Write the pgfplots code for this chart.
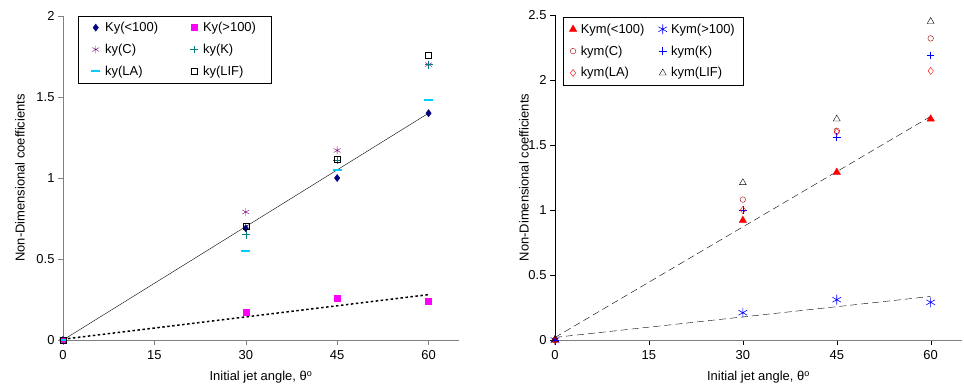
\documentclass[border=0pt]{standalone}
\usepackage{pgfplots}
\pgfplotsset{compat=1.18}
\usepackage{fontspec}
\setmainfont{Liberation Sans}
\definecolor{navyc}{RGB}{0,0,128}
\definecolor{purplec}{RGB}{128,0,128}
\definecolor{tealc}{RGB}{0,128,128}
\definecolor{cyanc}{RGB}{0,204,255}
\definecolor{darkredc}{RGB}{153,0,0}
\definecolor{axgrey}{RGB}{128,128,128}
\definecolor{magentac}{RGB}{255,0,255}
\begin{document}
\begin{tikzpicture}
\useasboundingbox (0bp,0bp) rectangle (964bp,388bp);
\pgfplotsset{
  every axis/.append style={
    scale only axis,
    font=\fontsize{13}{15}\selectfont,
    axis x line*=bottom, axis y line*=left,
    xmin=0, xmax=65,
    xtick={0,15,30,45,60},
    tick align=outside,
    major tick length=5bp,
    clip=false,
    /pgf/number format/assume math mode=true,
    xlabel={Initial jet angle, θ\textsuperscript{o}},
    ylabel={Non-Dimensional coefficients},
    xlabel style={at={(axis description cs:0.5,0)}, anchor=center, yshift=-37bp},
    legend columns=2,
    legend cell align=left,
    every axis label/.append style={font=\fontsize{13}{15}\selectfont},
    xticklabel style={yshift=-2bp},
  }
}
% Left chart
\begin{axis}[
  at={(63bp,48bp)}, anchor=south west,
  width=396bp, height=324bp,
  ymin=0, ymax=2,
  ytick={0,0.5,1,1.5,2},
  yticklabels={0,0.5,1,1.5,2},
  axis line style={axgrey},
  tick style={axgrey},
  ylabel style={at={(axis description cs:0,0.5)}, anchor=center, yshift=43bp},
  legend style={at={(0.038,1.0)}, anchor=north west,
    draw=black, fill=white, font=\fontsize{13}{15}\selectfont,
    inner xsep=13bp, inner ysep=4bp, row sep=7bp,
    /tikz/every odd column/.append style={column sep=3bp},
    /tikz/every even column/.append style={column sep=30bp}},
]
\addplot[only marks, mark=diamond*, mark size=3.6, color=navyc] coordinates {(0,0) (30,0.69) (45,1.0) (60,1.4)};
\addlegendentry{Ky(<100)}
\addplot[only marks, mark=square*, mark size=3, color=magentac] coordinates {(0,0) (30,0.17) (45,0.26) (60,0.24)};
\addlegendentry{Ky(>100)}
\addplot[only marks, mark=asterisk, mark size=4, color=purplec] coordinates {(0,0) (30,0.79) (45,1.17) (60,1.70)};
\addlegendentry{ky(C)}
\addplot[only marks, mark=+, mark size=4, color=tealc] coordinates {(0,0) (30,0.65) (45,1.11) (60,1.70)};
\addlegendentry{ky(K)}
\addplot[only marks, mark=-, mark size=4.5, line width=2.2pt, color=cyanc] coordinates {(0,0) (30,0.55) (45,1.05) (60,1.48)};
\addlegendentry{ky(LA)}
\addplot[only marks, mark=square, mark size=3, color=black] coordinates {(0,0) (30,0.705) (45,1.115) (60,1.755)};
\addlegendentry{ky(LIF)}
\addplot[black, thin, forget plot] coordinates {(0,0) (60,1.4)};
\addplot[black, line width=1.5pt, dash pattern=on 2.5bp off 2.5bp, forget plot] coordinates {(0,0.005) (60,0.28)};
\end{axis}
% Right chart
\begin{axis}[
  at={(555bp,48bp)}, anchor=south west,
  width=407bp, height=325bp,
  ymin=0, ymax=2.5,
  ytick={0,0.5,1,1.5,2,2.5},
  yticklabels={0,0.5,1,1.5,2,2.5},
  x axis line style={axgrey},
  y axis line style={black},
  tick style={black},
  ylabel style={at={(axis description cs:0,0.5)}, anchor=center, yshift=31bp},
  legend style={at={(0.02,0.995)}, anchor=north west,
    draw=black, fill=white, font=\fontsize{13}{15}\selectfont,
    inner xsep=6bp, inner ysep=5bp, row sep=7bp,
    /tikz/every odd column/.append style={column sep=2bp},
    /tikz/every even column/.append style={column sep=12bp}},
]
\addplot[only marks, mark=triangle*, mark size=4.3, color=red] coordinates {(0,0) (30,0.92) (45,1.29) (60,1.70)};
\addlegendentry{Kym(<100)}
\addplot[only marks, mark=asterisk, mark size=5, color=blue, line width=0.6pt] coordinates {(0,0) (30,0.21) (45,0.31) (60,0.29)};
\addlegendentry{Kym(>100)}
\addplot[only marks, mark=o, mark size=2.8, color=darkredc] coordinates {(0,0) (30,1.08) (45,1.61) (60,2.32)};
\addlegendentry{kym(C)}
\addplot[only marks, mark=+, mark size=3.8, color=blue, line width=0.6pt] coordinates {(0,0) (30,1.0) (45,1.56) (60,2.19)};
\addlegendentry{kym(K)}
\addplot[only marks, mark=diamond, mark size=3.6, color=red] coordinates {(0,0) (30,1.0) (45,1.60) (60,2.07)};
\addlegendentry{kym(LA)}
\addplot[only marks, mark=triangle, mark size=4, color=black] coordinates {(0,0) (30,1.21) (45,1.70) (60,2.45)};
\addlegendentry{kym(LIF)}
\addplot[black, thin, dash pattern=on 7bp off 4bp, forget plot] coordinates {(0,0.02) (60,1.72)};
\addplot[black, thin, dash pattern=on 7bp off 4bp, forget plot] coordinates {(0,0.02) (60,0.335)};
\end{axis}
\end{tikzpicture}
\end{document}
